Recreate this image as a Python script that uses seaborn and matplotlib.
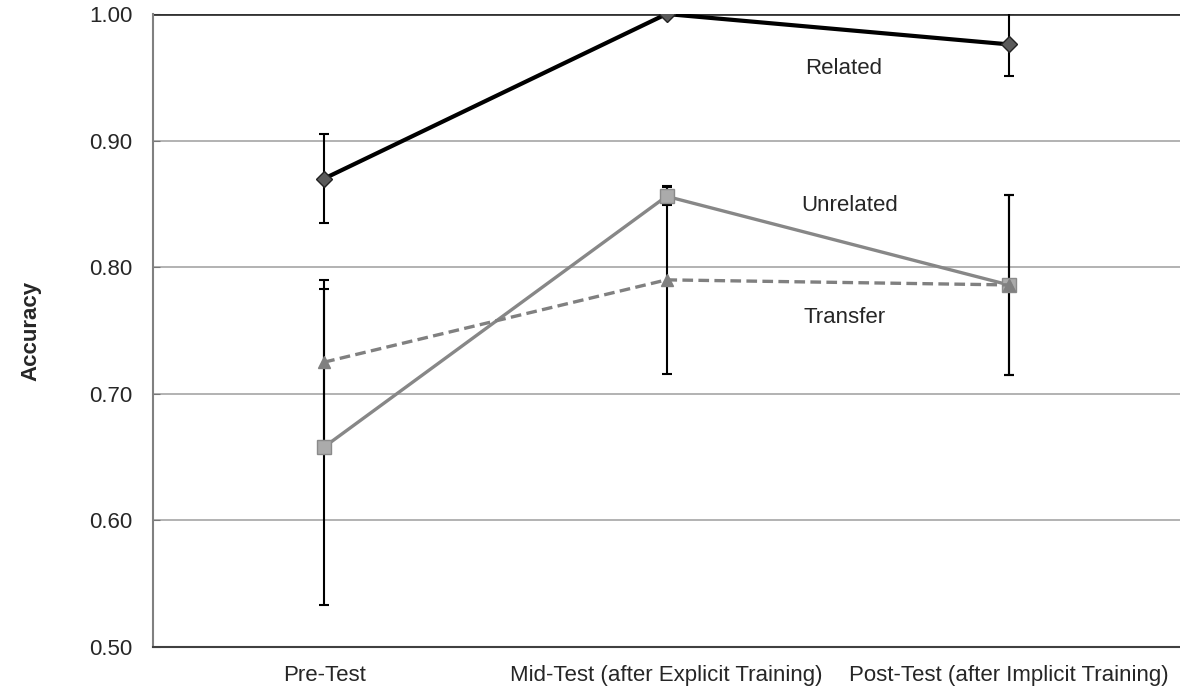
import numpy as np
import pandas as pd
import seaborn as sns
import matplotlib.pyplot as plt

# Chart data
phases = ['Pre-Test', 'Mid-Test (after Explicit Training)', 'Post-Test (after Implicit Training)']
related = [0.870, 1.000, 0.976]
related_err = [0.035, 0.0, 0.025]
unrelated = [0.658, 0.856, 0.786]
unrelated_err = [0.125, 0.007, 0.071]
transfer = [0.725, 0.790, 0.786]
transfer_err = [0.065, 0.074, 0.071]
y_ticks = [0.50, 0.60, 0.70, 0.80, 0.90, 1.00]

sns.set_style('white')
plt.rcParams['font.family'] = ['Liberation Sans', 'DejaVu Sans']

df = pd.DataFrame({
    'phase': list(range(3)) * 3,
    'acc': related + unrelated + transfer,
    'cond': ['Related'] * 3 + ['Unrelated'] * 3 + ['Transfer'] * 3,
})

fig = plt.figure(figsize=(11.8, 6.98), dpi=100)
ax = fig.add_axes([153 / 1180, 51 / 698, 1027 / 1180, 633 / 698])

# gridlines
for yv in y_ticks[1:-1]:
    ax.axhline(yv, color='#a6a6a6', lw=1.2, zorder=0)
ax.axhline(1.0, color='#333333', lw=2, zorder=1)

# error bars (drawn under the markers)
for vals, errs in [(related, related_err), (unrelated, unrelated_err), (transfer, transfer_err)]:
    ax.errorbar(range(3), vals, yerr=errs, fmt='none', ecolor='black',
                elinewidth=1.5, capsize=3.5, capthick=1.5, zorder=2)

styles = {
    'Related': dict(color='black', lw=3, ls='-', marker='D', mfc='#5a5a5a', mec='#222222', ms=8),
    'Unrelated': dict(color='#878787', lw=2.4, ls='-', marker='s', mfc='#ababab', mec='#8a8a8a', ms=10),
    'Transfer': dict(color='#808080', lw=2.4, ls=(0, (3.2, 1.6)), marker='^', mfc='#808080', mec='#808080', ms=8),
}
for cond, sub in df.groupby('cond', sort=False):
    st = styles[cond]
    sns.lineplot(data=sub, x='phase', y='acc', ax=ax, color=st['color'], lw=st['lw'],
                 linestyle=st['ls'], marker=st['marker'], markerfacecolor=st['mfc'],
                 markeredgecolor=st['mec'], markersize=st['ms'], markeredgewidth=1,
                 zorder=3, legend=False)

ax.text(1.516, 0.9566, 'Related', ha='center', va='center', fontsize=16)
ax.text(1.534, 0.849, 'Unrelated', ha='center', va='center', fontsize=16)
ax.text(1.519, 0.760, 'Transfer', ha='center', va='center', fontsize=16)

ax.set_xlim(-0.5, 2.5)
ax.set_ylim(0.5, 1.0)
ax.set_yticks(y_ticks)
ax.set_yticklabels([f'{v:.2f}' for v in y_ticks], fontsize=16)
ax.set_xticks(range(3))
ax.set_xticklabels(phases, fontsize=16)
ax.set_xticks([-0.5, 0.5, 1.5], minor=True)
ax.tick_params(axis='x', which='major', length=0, pad=13)
ax.tick_params(axis='x', which='minor', length=5, direction='out', color='#999999')
ax.tick_params(axis='y', length=5, direction='in', color='#777777', pad=15, left=True)
ax.set_xlabel('')
ax.set_ylabel('Accuracy', fontsize=16, fontweight='bold', labelpad=34)

for side in ['top', 'right']:
    ax.spines[side].set_visible(False)
ax.spines['left'].set_color('#808080')
ax.spines['left'].set_linewidth(1.5)
ax.spines['bottom'].set_color('#404040')
ax.spines['bottom'].set_linewidth(1.5)

fig.savefig('out.png', dpi=100)
